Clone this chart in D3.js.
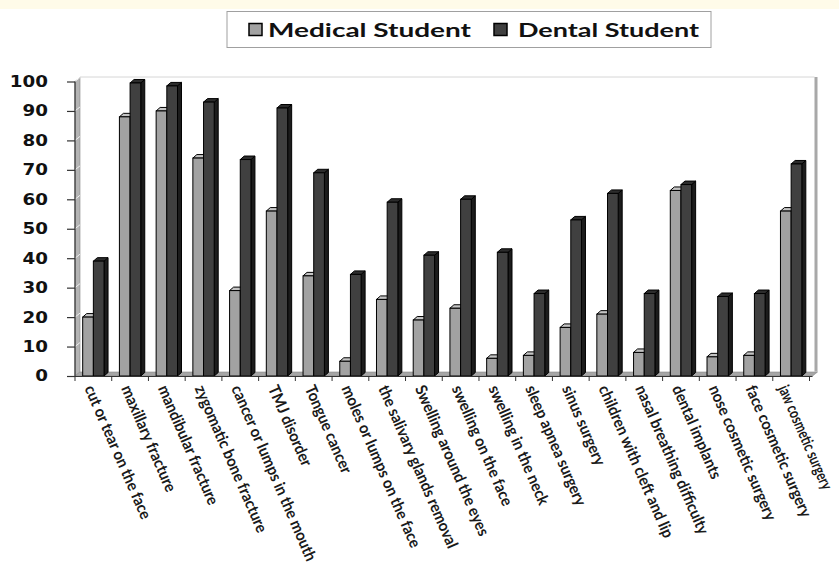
<!DOCTYPE html>
<html>
<head>
<meta charset="utf-8">
<script src="https://cdn.jsdelivr.net/npm/d3@7"></script>
<style>
  body { margin: 0; background: #fff; }
  svg { display: block; }
</style>
</head>
<body>
<script>
// values (percent)
var categories = ["cut or tear on the face", "maxillary fracture", "mandibular fracture",
  "zygomatic bone fracture", "cancer or lumps in the mouth", "TMJ disorder", "Tongue cancer",
  "moles or lumps on the face", "the salivary glands removal", "Swelling around the eyes",
  "swelling on the face", "swelling in the neck", "sleep apnea surgery", "sinus surgery",
  "children with cleft and lip", "nasal breathing difficulty", "dental implants",
  "nose cosmetic surgery", "face cosmetic surgery", "jaw cosmetic surgery"];
var medical = [20, 88, 90, 74, 29, 56, 34, 5, 26, 19, 23, 6, 7, 16.5, 21, 8, 63, 6.5, 7, 56];
var dental  = [39, 99.5, 98.5, 93, 73.5, 91, 69, 34.5, 59, 41, 60, 42, 28, 53, 62, 28, 65, 27, 28, 72];
var seriesNames = ["Medical Student", "Dental Student"];
var yTicks = [0, 10, 20, 30, 40, 50, 60, 70, 80, 90, 100];

var width = 839, height = 568;
var x0 = 75, x1 = 809.5, yBase = 376, yTop = 81.5;
var wall = {dx: 5, dy: -4};   // depth of the back wall
var depth = {dx: 4, dy: -3.5}; // depth of each bar

var colors = {
  "Medical Student": {front: "#a2a2a2", top: "#c4c4c4", side: "#7a7a7a"},
  "Dental Student":  {front: "#404040", top: "#2c2c2c", side: "#1c1c1c"}
};

var svg = d3.select("body").append("svg")
  .attr("width", width)
  .attr("height", height);

// pale band at the top
svg.append("rect").attr("x", 0).attr("y", 0).attr("width", width).attr("height", 9)
  .attr("fill", "#fffbe9");

var x = d3.scaleBand().domain(categories).range([x0, x1]).padding(0);
var xs = d3.scaleBand().domain(seriesNames).range([0, x.bandwidth()]).paddingInner(0).paddingOuter(0.72);
var y = d3.scaleLinear().domain([0, 100]).range([yBase, yTop]);

// back wall
svg.append("rect")
  .attr("x", x0 + wall.dx).attr("y", yTop + wall.dy - 0.5)
  .attr("width", x1 - x0 + 0.5).attr("height", yBase - yTop)
  .attr("fill", "#fff").attr("stroke", "none");
svg.append("line")
  .attr("x1", x0 + wall.dx).attr("x2", x1 + wall.dx)
  .attr("y1", yTop + wall.dy - 0.5).attr("y2", yTop + wall.dy - 0.5)
  .attr("stroke", "#d6d6d6").attr("stroke-width", 1);
svg.append("rect")
  .attr("x", x1 + wall.dx).attr("y", yTop + wall.dy - 0.5)
  .attr("width", 3).attr("height", yBase - yTop)
  .attr("fill", "#a8a8a8");

// left wall
svg.append("polygon")
  .attr("points", [[x0, yTop], [x0 + wall.dx, yTop + wall.dy], [x0 + wall.dx, yBase + wall.dy], [x0, yBase]].join(" "))
  .attr("fill", "#b4b4b4").attr("stroke", "#888").attr("stroke-width", 0.6);

// floor
svg.append("polygon")
  .attr("points", [[x0, yBase], [x0 + wall.dx, yBase + wall.dy], [x1 + wall.dx + 3, yBase + wall.dy], [x1 + 3, yBase]].join(" "))
  .attr("fill", "#a6a6a6").attr("stroke", "#888").attr("stroke-width", 0.6);

// faint grid marks on the left wall
svg.append("g").selectAll("line")
  .data(yTicks.slice(1))
  .join("line")
  .attr("x1", x0).attr("x2", x0 + wall.dx)
  .attr("y1", function(d) { return y(d); })
  .attr("y2", function(d) { return y(d) + wall.dy; })
  .attr("stroke", "#eee").attr("stroke-width", 1);

// bars
var rows = categories.map(function(c, i) {
  return {cat: c, vals: [
    {name: seriesNames[0], v: medical[i]},
    {name: seriesNames[1], v: dental[i]}
  ]};
});

var groups = svg.append("g").selectAll("g")
  .data(rows)
  .join("g")
  .attr("transform", function(d) { return "translate(" + x(d.cat) + ",0)"; });

var bar = groups.selectAll("g")
  .data(function(d) { return d.vals; })
  .join("g");

bar.each(function(d) {
  var g = d3.select(this);
  var bx = xs(d.name), bw = xs.bandwidth(), ty = y(d.v), c = colors[d.name];
  // side
  g.append("polygon")
    .attr("points", [[bx + bw, ty], [bx + bw + depth.dx, ty + depth.dy], [bx + bw + depth.dx, yBase + depth.dy], [bx + bw, yBase]].join(" "))
    .attr("fill", c.side).attr("stroke", "#000").attr("stroke-width", 1).attr("stroke-linejoin", "round");
  // top
  g.append("polygon")
    .attr("points", [[bx, ty], [bx + depth.dx, ty + depth.dy], [bx + bw + depth.dx, ty + depth.dy], [bx + bw, ty]].join(" "))
    .attr("fill", c.top).attr("stroke", "#000").attr("stroke-width", 1).attr("stroke-linejoin", "round");
  // front
  g.append("rect")
    .attr("x", bx).attr("y", ty)
    .attr("width", bw).attr("height", yBase - ty)
    .attr("fill", c.front).attr("stroke", "#000").attr("stroke-width", 1);
});

// y axis
var yAxis = svg.append("g")
  .attr("transform", "translate(" + x0 + ",0)")
  .call(d3.axisLeft(y).tickValues(yTicks).tickSize(8).tickFormat(""));
yAxis.selectAll("path,line").attr("stroke", "#333").attr("stroke-width", 1.2);
yAxis.select(".domain").attr("d", "M0," + yBase + "V" + yTop);

svg.append("g").selectAll("text")
  .data(yTicks)
  .join("text")
  .attr("transform", function(d) { return "translate(48," + y(d) + ") scale(1.22,1)"; })
  .attr("dy", "0.36em")
  .attr("text-anchor", "end")
  .attr("font-family", "DejaVu Sans")
  .attr("font-weight", "bold")
  .attr("font-size", 15)
  .attr("fill", "#111")
  .text(function(d) { return d; });

// x axis
var xAxis = svg.append("g")
  .attr("transform", "translate(0," + yBase + ")")
  .call(d3.axisBottom(x).tickSize(0).tickFormat(""));
xAxis.select(".domain").attr("d", "M" + x0 + ",0.5H" + (x1 + 3)).attr("stroke", "#333").attr("stroke-width", 1.2);
xAxis.append("g").selectAll("line")
  .data(d3.range(categories.length + 1))
  .join("line")
  .attr("x1", function(i) { return x0 + i * x.step(); })
  .attr("x2", function(i) { return x0 + i * x.step(); })
  .attr("y1", 0).attr("y2", 5)
  .attr("stroke", "#333").attr("stroke-width", 1);

var xLabels = svg.append("g").selectAll("text")
  .data(categories)
  .join("text")
  .attr("dy", "0.35em")
  .attr("text-anchor", "start")
  .attr("font-family", "Lato")
  .attr("font-weight", "bold")
  .attr("font-size", 16)
  .attr("fill", "#1a1a1a")
  .text(function(d) { return d; });

// squeeze the labels along their length so the longest one is ~190px, as in the picture
var longest = xLabels.filter(function(d) { return d === "cancer or lumps in the mouth"; }).node();
var k = 190 / longest.getComputedTextLength();
function labelTransform(d, shift, kk) {
  return "translate(" + (x(d) + x.bandwidth() / 2 - 4 - shift) + "," + (yBase + 10) + ") rotate(66.5) scale(" + kk + ",1)";
}
xLabels.attr("transform", function(d) { return labelTransform(d, 0, k); });

// a label that runs past the right edge: nudge it a little, then shorten it until it fits
xLabels.each(function(d) {
  var el = d3.select(this), shift = 0, kk = k;
  var over = this.getBoundingClientRect().right - (width - 1);
  if (over <= 0) return;
  shift = Math.min(over, 4);
  el.attr("transform", labelTransform(d, shift, kk));
  for (var n = 0; n < 40 && this.getBoundingClientRect().right > width - 1; n++) {
    kk *= 0.98;
    el.attr("transform", labelTransform(d, shift, kk));
  }
});

// legend
var legend = svg.append("g");
legend.append("rect")
  .attr("x", 227).attr("y", 11.5).attr("width", 484).attr("height", 36)
  .attr("fill", "#fff").attr("stroke", "#a0a0a0").attr("stroke-width", 1);

var legendItems = [
  {name: seriesNames[0], sx: 249, tx: 268, tw: 203},
  {name: seriesNames[1], sx: 494, tx: 518, tw: 181}
];
legendItems.forEach(function(it) {
  legend.append("rect")
    .attr("x", it.sx).attr("y", 23.5).attr("width", 13).attr("height", 12)
    .attr("fill", colors[it.name].front).attr("stroke", "#000").attr("stroke-width", 1.5);
  legend.append("text")
    .attr("x", it.tx).attr("y", 36.5)
    .attr("font-family", "Lato")
    .attr("font-weight", "bold")
    .attr("font-size", 19)
    .attr("textLength", it.tw)
    .attr("lengthAdjust", "spacingAndGlyphs")
    .attr("fill", "#111")
    .text(it.name);
});
</script>
</body>
</html>
